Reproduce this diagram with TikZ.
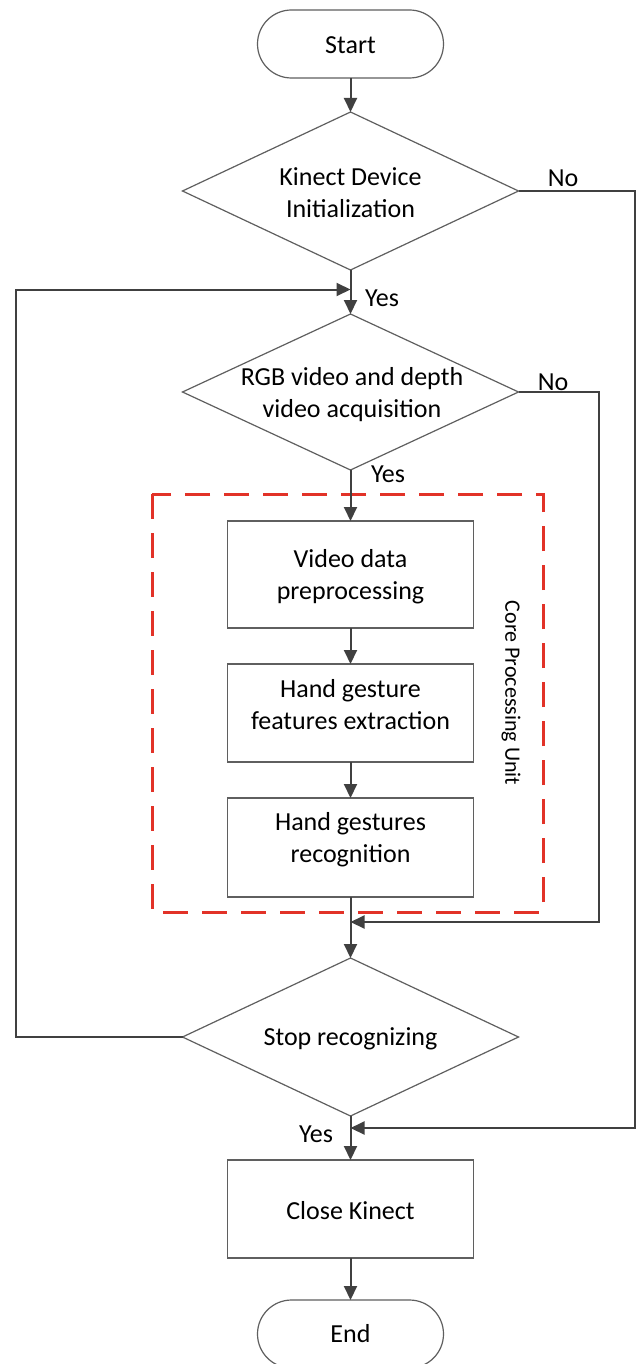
\documentclass[tikz,border=0pt]{standalone}
\usepackage{fontspec}
\setmainfont{Carlito}
\usetikzlibrary{shapes.geometric,arrows.meta}
\definecolor{linec}{RGB}{64,64,64}
\definecolor{boxc}{RGB}{95,95,95}
\definecolor{redc}{RGB}{226,50,40}
\tikzset{
  arr/.style={draw=linec,line width=2pt,-{Triangle[length=14pt,width=13pt]}},
  term/.style={draw=boxc,line width=1.2pt,rectangle,rounded corners=34pt,minimum width=186pt,minimum height=68pt,inner sep=0pt,outer sep=0pt},
  procbox/.style={draw=boxc,line width=1.2pt,rectangle,minimum width=246pt,inner sep=0pt,outer sep=0pt},
  dia/.style={draw=boxc,line width=1.2pt,diamond,minimum width=336pt,inner sep=0pt,outer sep=0pt},
  txt/.style={align=center,font=\fontsize{26pt}{32pt}\selectfont,inner sep=0pt},
  lbl/.style={font=\fontsize{26pt}{32pt}\selectfont,inner sep=0pt},
  core/.style={draw=redc,line width=3pt,dash pattern=on 25pt off 14pt},
}
\begin{document}
\begin{tikzpicture}[x=1pt,y=-1pt]
\useasboundingbox[fill=white] (0,0) rectangle (637,1364);
% shapes
\node[term] (start) at (350.5,44) {};
\node[txt] (tstart) at (350.5,45) {Start};
\node[dia,minimum height=158pt] (d1) at (350.5,191) {};
\node[txt] (td1) at (350.5,193) {Kinect Device\\Initialization};
\node[dia,minimum height=156pt] (d2) at (350.5,392) {};
\node[txt] (td2) at (352,395) {RGB video and depth\\video acquisition};
\node[procbox,minimum height=107pt] (b1) at (350.5,574.5) {};
\node[txt] (tb1) at (350.5,577) {Video data\\preprocessing};
\node[procbox,minimum height=98pt] (b2) at (350.5,713) {};
\node[txt] (tb2) at (350.5,705) {Hand gesture\\features extraction};
\node[procbox,minimum height=99pt] (b3) at (350.5,847.5) {};
\node[txt] (tb3) at (350.5,840) {Hand gestures\\recognition};
\node[dia,minimum height=158pt] (d3) at (350.5,1037) {};
\node[txt] (td3) at (350.5,1039) {Stop recognizing};
\node[procbox,minimum height=98pt] (b4) at (350.5,1209) {};
\node[txt] (tb4) at (350.5,1211) {Close Kinect};
\node[term] (end) at (350.5,1334) {};
\node[txt] (tend) at (350.5,1334) {End};
% dashed core unit
\draw[core] (152,494) rectangle (543,912);
\node[font=\fontsize{22pt}{26pt}\selectfont,inner sep=0pt,rotate=-90] (tcore) at (511,693) {Core Processing Unit};
% coordinates
\coordinate (jloop) at (350.5,289.5);
\coordinate (lbot) at (16,1037);
\coordinate (ltop) at (16,289.5);
\coordinate (r1a) at (635,191);
\coordinate (r1b) at (635,1128);
\coordinate (jend) at (350.5,1128);
\coordinate (r2a) at (599,392);
\coordinate (r2b) at (599,922);
\coordinate (jmid) at (350.5,922);
% connectors
\draw[arr] (start) -- (d1.north);
\draw[arr] (d1.south) -- (d2.north);
\draw[arr] (d2.south) -- (b1.north);
\draw[arr] (b1) -- (b2);
\draw[arr] (b2) -- (b3);
\draw[arr] (b3.south) -- (d3.north);
\draw[arr] (d3.south) -- (b4.north);
\draw[arr] (b4) -- (end);
\draw[arr] (d3.west) -- (lbot) -- (ltop) -- (jloop);
\draw[arr] (d1.east) -- (r1a) -- (r1b) -- (jend);
\draw[arr] (d2.east) -- (r2a) -- (r2b) -- (jmid);
% labels
\node[lbl] (yes1) at (382,298) {Yes};
\node[lbl] (yes2) at (388,474) {Yes};
\node[lbl] (yes3) at (316,1134) {Yes};
\node[lbl] (no1) at (563,178) {No};
\node[lbl] (no2) at (553,382) {No};
\end{tikzpicture}
\end{document}
